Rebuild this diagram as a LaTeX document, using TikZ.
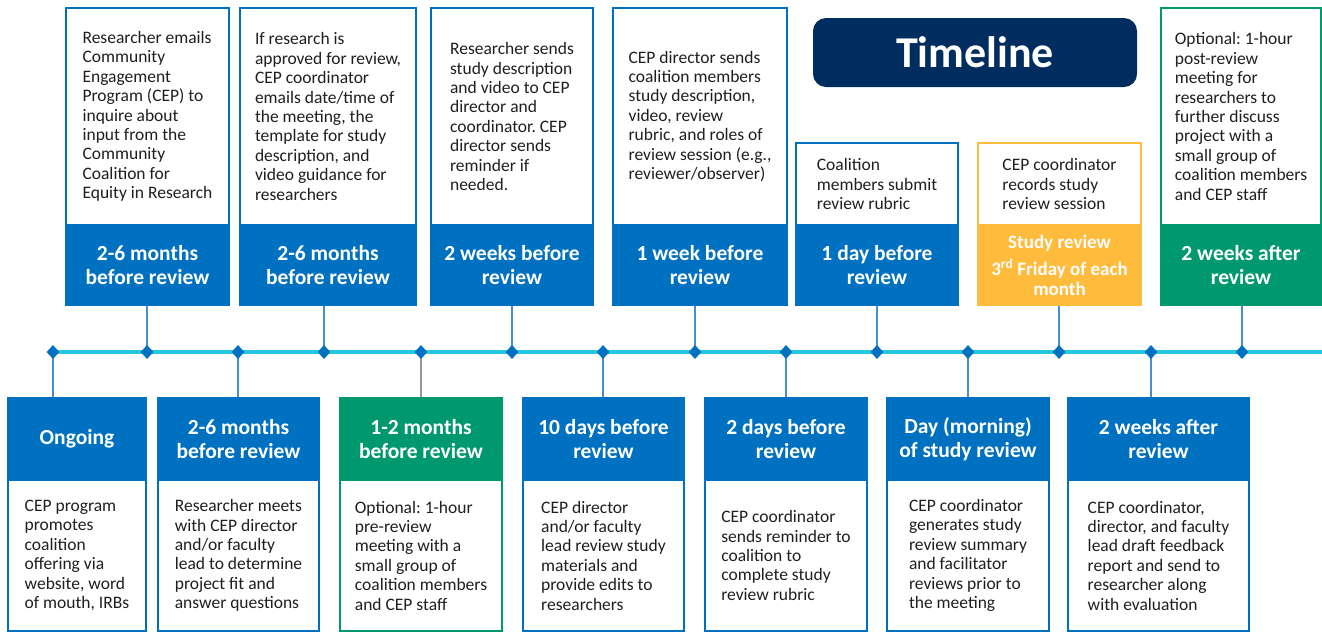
\documentclass[tikz,border=0pt]{standalone}
\usepackage{fontspec}
\setmainfont{Carlito}
\usetikzlibrary{shapes.geometric}
\definecolor{cepblue}{RGB}{0,112,192}
\definecolor{cepgreen}{RGB}{0,152,110}
\definecolor{ceporange}{RGB}{255,187,60}
\definecolor{cepnavy}{RGB}{0,45,95}
\definecolor{cepcyan}{RGB}{36,200,222}
\definecolor{cepline}{RGB}{70,142,212}
\frenchspacing
\begin{document}
\begin{tikzpicture}[x=1pt,y=-1pt,
  body/.style={draw=#1,line width=2.5pt,fill=white,align=left,inner sep=0pt,text=black!88,font=\fontsize{17.5}{19.4}\selectfont},
  body/.default=cepblue,
  head/.style={draw=#1,fill=#1,line width=2.5pt,align=center,inner sep=0pt,text=white,font=\bfseries\fontsize{21.5}{24}\selectfont},
  head/.default=cepblue,
  tick/.style={diamond,fill=cepblue,inner sep=0pt,minimum width=13pt,minimum height=14pt},
  conn/.style={draw=cepline,line width=2pt},
  tline/.style={draw=cepcyan,line width=4pt}]
\useasboundingbox (0,0) rectangle (1322,633);

\path (975,52.5) node[fill=cepnavy,rounded corners=13pt,minimum width=324pt,minimum height=69pt,text=white,font=\bfseries\fontsize{44}{48}\selectfont] (title) {Timeline};

\path (147.5,116.5) node[body,minimum width=163pt,minimum height=217pt] (t1) {Researcher emails\\Community\\Engagement\\Program (CEP) to\\inquire about\\input from the\\Community\\Coalition for\\Equity in Research};
\path (147.5,265) node[head,minimum width=163pt,minimum height=80pt] (h1) {2-6 months\\before review};

\path (328,116.5) node[body,minimum width=176pt,minimum height=217pt] (t2) {If research is\\approved for review,\\CEP coordinator\\emails date/time of\\the meeting, the\\template for study\\description, and\\video guidance for\\researchers};
\path (328,265) node[head,minimum width=176pt,minimum height=80pt] (h2) {2-6 months\\before review};

\path (512,116.5) node[body,minimum width=162pt,minimum height=217pt] (t3) {Researcher sends\\study description\\and video to CEP\\director and\\coordinator. CEP\\director sends\\reminder if\\needed.};
\path (512,265) node[head,minimum width=162pt,minimum height=80pt] (h3) {2 weeks before\\review};

\path (700,116.5) node[body,minimum width=174pt,minimum height=217pt] (t4) {CEP director sends\\coalition members\\study description,\\video, review\\rubric, and roles of\\review session (e.g.,\\reviewer/observer)};
\path (700,265) node[head,minimum width=174pt,minimum height=80pt] (h4) {1 week before\\review};

\path (877,184) node[body,minimum width=162pt,minimum height=82pt] (t5) {Coalition\\members submit\\review rubric};
\path (877,265) node[head,minimum width=162pt,minimum height=80pt] (h5) {1 day before\\review};

\path (1059.5,184) node[body=ceporange,minimum width=163pt,minimum height=82pt] (t6) {CEP coordinator\\records study\\review session};
\path (1059.5,265) node[head=ceporange,minimum width=163pt,minimum height=80pt,font=\bfseries\fontsize{19}{20}\selectfont] (h6) {Study review\\[7pt]3\textsuperscript{rd} Friday of each\\month};

\path (1241,116.5) node[body=cepgreen,minimum width=160pt,minimum height=217pt] (t7) {Optional: 1-hour\\post-review\\meeting for\\researchers to\\further discuss\\project with a\\small group of\\coalition members\\and CEP staff};
\path (1241,265) node[head=cepgreen,minimum width=160pt,minimum height=80pt] (h7) {2 weeks after\\review};

\path (77,439) node[head,minimum width=138pt,minimum height=82pt] (g1) {Ongoing};
\path (77,555.5) node[body,minimum width=138pt,minimum height=151pt] (b1) {CEP program\\promotes\\coalition\\offering via\\website, word\\of mouth, IRBs};

\path (238.5,439) node[head,minimum width=161pt,minimum height=82pt] (g2) {2-6 months\\before review};
\path (238.5,555.5) node[body,minimum width=161pt,minimum height=151pt] (b2) {Researcher meets\\with CEP director\\and/or faculty\\lead to determine\\project fit and\\answer questions};

\path (421,439) node[head=cepgreen,minimum width=162pt,minimum height=82pt] (g3) {1-2 months\\before review};
\path (421,555.5) node[body=cepgreen,minimum width=162pt,minimum height=151pt] (b3) {Optional: 1-hour\\pre-review\\meeting with a\\small group of\\coalition members\\and CEP staff};

\path (603.5,439) node[head,minimum width=161pt,minimum height=82pt] (g4) {10 days before\\review};
\path (603.5,555.5) node[body,minimum width=161pt,minimum height=151pt] (b4) {CEP director\\and/or faculty\\lead review study\\materials and\\provide edits to\\researchers};

\path (786,439) node[head,minimum width=162pt,minimum height=82pt] (g5) {2 days before\\review};
\path (786,555.5) node[body,minimum width=162pt,minimum height=151pt] (b5) {CEP coordinator\\sends reminder to\\coalition to\\complete study\\review rubric};

\path (968,439) node[head,minimum width=162pt,minimum height=82pt] (g6) {Day (morning)\\of study review};
\path (968,555.5) node[body,minimum width=162pt,minimum height=151pt] (b6) {CEP coordinator\\generates study\\review summary\\and facilitator\\reviews prior to\\the meeting};

\path (1158.5,439) node[head,minimum width=181pt,minimum height=82pt] (g7) {2 weeks after\\review};
\path (1158.5,555.5) node[body,minimum width=181pt,minimum height=151pt] (b7) {CEP coordinator,\\director, and faculty\\lead draft feedback\\report and send to\\researcher along\\with evaluation};

\coordinate (d1) at (53,352);
\coordinate (d2) at (147,352);
\coordinate (d3) at (238,352);
\coordinate (d4) at (324,352);
\coordinate (d5) at (421,352);
\coordinate (d6) at (512,352);
\coordinate (d7) at (603,352);
\coordinate (d8) at (695,352);
\coordinate (d9) at (786,352);
\coordinate (d10) at (877,352);
\coordinate (d11) at (968,352);
\coordinate (d12) at (1059,352);
\coordinate (d13) at (1151,352);
\coordinate (d14) at (1242,352);
\coordinate (tend) at (1322,352);

\draw[conn] (d2) -- (d2 |- h1.south);
\draw[conn] (d4) -- (d4 |- h2.south);
\draw[conn] (d6) -- (d6 |- h3.south);
\draw[conn] (d8) -- (d8 |- h4.south);
\draw[conn] (d10) -- (d10 |- h5.south);
\draw[conn] (d12) -- (d12 |- h6.south);
\draw[conn] (d14) -- (d14 |- h7.south);
\draw[conn] (d1) -- (d1 |- g1.north);
\draw[conn] (d3) -- (d3 |- g2.north);
\draw[conn,draw=gray!80] (d5) -- (d5 |- g3.north);
\draw[conn] (d7) -- (d7 |- g4.north);
\draw[conn] (d9) -- (d9 |- g5.north);
\draw[conn] (d11) -- (d11 |- g6.north);
\draw[conn] (d13) -- (d13 |- g7.north);

\draw[tline] (d1) -- (tend);
\path (d1) node[tick] (k1) {};
\path (d2) node[tick] (k2) {};
\path (d3) node[tick] (k3) {};
\path (d4) node[tick] (k4) {};
\path (d5) node[tick] (k5) {};
\path (d6) node[tick] (k6) {};
\path (d7) node[tick] (k7) {};
\path (d8) node[tick] (k8) {};
\path (d9) node[tick] (k9) {};
\path (d10) node[tick] (k10) {};
\path (d11) node[tick] (k11) {};
\path (d12) node[tick] (k12) {};
\path (d13) node[tick] (k13) {};
\path (d14) node[tick] (k14) {};
\end{tikzpicture}
\end{document}
